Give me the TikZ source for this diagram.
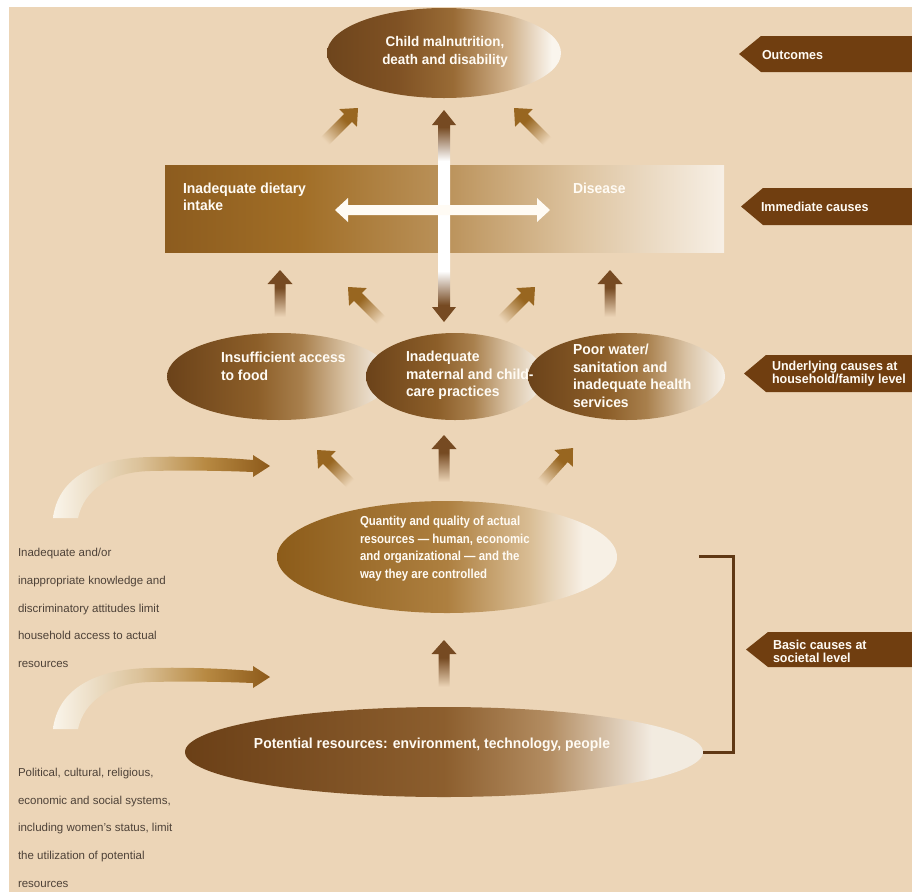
\documentclass[tikz,border=0pt]{standalone}
\usepackage{fontspec}
\setmainfont{Liberation Sans}
\newfontfamily\bcond[FakeStretch=0.96]{Liberation Sans}
\newfontfamily\bnarrow[FakeStretch=0.88]{Liberation Sans}
\usetikzlibrary{shapes.geometric}
\definecolor{bgc}{RGB}{236,213,183}
\definecolor{tagc}{RGB}{112,62,16}
\definecolor{brk}{RGB}{96,56,20}
\definecolor{txtg}{RGB}{78,66,56}
\definecolor{arrV}{RGB}{118,74,34}
\definecolor{arrD}{RGB}{152,102,32}
\definecolor{wtxt}{RGB}{255,251,244}
\pgfdeclarehorizontalshading{shTop}{100bp}{rgb(0bp)=(0.43,0.27,0.11); rgb(25bp)=(0.43,0.27,0.11); rgb(40bp)=(0.50,0.32,0.14); rgb(52bp)=(0.60,0.42,0.21); rgb(64bp)=(0.82,0.70,0.55); rgb(73bp)=(0.98,0.96,0.93); rgb(100bp)=(0.98,0.96,0.93)}
\pgfdeclarehorizontalshading{shRow}{100bp}{rgb(0bp)=(0.42,0.26,0.10); rgb(25bp)=(0.42,0.26,0.10); rgb(45bp)=(0.55,0.37,0.16); rgb(55bp)=(0.66,0.50,0.30); rgb(65bp)=(0.85,0.76,0.64); rgb(75bp)=(0.97,0.95,0.92); rgb(100bp)=(0.97,0.95,0.92)}
\pgfdeclarehorizontalshading{shRect}{100bp}{rgb(0bp)=(0.55,0.36,0.12); rgb(25bp)=(0.55,0.36,0.12); rgb(37bp)=(0.63,0.43,0.15); rgb(50bp)=(0.73,0.57,0.35); rgb(62bp)=(0.87,0.77,0.63); rgb(75bp)=(0.97,0.94,0.90); rgb(100bp)=(0.97,0.94,0.90)}
\pgfdeclarehorizontalshading{shQuant}{100bp}{rgb(0bp)=(0.55,0.36,0.10); rgb(25bp)=(0.55,0.36,0.10); rgb(50bp)=(0.68,0.50,0.25); rgb(62bp)=(0.85,0.74,0.58); rgb(70bp)=(0.97,0.94,0.90); rgb(100bp)=(0.97,0.94,0.90)}
\pgfdeclarehorizontalshading{shPot}{100bp}{rgb(0bp)=(0.42,0.25,0.09); rgb(25bp)=(0.42,0.25,0.09); rgb(50bp)=(0.55,0.37,0.18); rgb(60bp)=(0.70,0.55,0.38); rgb(70bp)=(0.95,0.92,0.88); rgb(100bp)=(0.95,0.92,0.88)}
\pgfdeclarehorizontalshading{shCurve}{100bp}{rgb(0bp)=(0.98,0.96,0.92); rgb(25bp)=(0.98,0.96,0.92); rgb(45bp)=(0.86,0.76,0.60); rgb(60bp)=(0.72,0.54,0.26); rgb(75bp)=(0.55,0.35,0.10); rgb(100bp)=(0.55,0.35,0.10)}
\pgfdeclareverticalshading{shDouble}{100bp}{color(0bp)=(arrV); color(29bp)=(arrV); color(37bp)=(white); color(63bp)=(white); color(71bp)=(arrV); color(100bp)=(arrV)}
\pgfdeclareverticalshading{shArrV}{100bp}{color(0bp)=(bgc); color(30bp)=(bgc); color(58bp)=(arrV); color(100bp)=(arrV)}
\pgfdeclareverticalshading{shArrD}{100bp}{color(0bp)=(bgc); color(30bp)=(bgc); color(58bp)=(arrD); color(100bp)=(arrD)}
\newcommand\smallarrow[5]{%
  \coordinate (#1) at (#2,#3);
  \begin{scope}[transform canvas={shift={(#1)},rotate=#4}]
    \shade[shading=#5] (0,0) -- (12.5,14) -- (5.5,14) -- (5.5,52) -- (-5.5,52) -- (-5.5,14) -- (-12.5,14) -- cycle;
  \end{scope}}
\newcommand\tagshape[3]{%
  \fill[tagc] (#1,{(#2+#3)/2}) -- (#1+22,#2) -- (912,#2) -- (912,#3) -- (#1+22,#3) -- cycle;}
\begin{document}
\begin{tikzpicture}[x=1pt,y=-1pt,
  every node/.style={inner sep=0pt,outer sep=0pt},
  ell/.style={ellipse,draw=none,inner sep=0pt},
  btext/.style={text=wtxt,font=\bcond\bfseries\fontsize{14.5}{17.5}\selectfont,align=left,anchor=west},
  tagtext/.style={text=wtxt,font=\bcond\bfseries\fontsize{13}{13}\selectfont,align=left,anchor=west},
  ltext/.style={text=txtg,font=\fontsize{11.5}{14}\selectfont,anchor=base west}]
\useasboundingbox (0,0) rectangle (912,892);
\fill[white] (0,0) rectangle (912,892);
\fill[bgc] (9,7) rectangle (912,892);

% outcome ellipse
\node[ell,shade,shading=shTop,minimum width=234,minimum height=90] (top) at (444,53) {};
\node[text=wtxt,font=\bcond\bfseries\fontsize{14}{18}\selectfont,align=center] (toptxt) at (445,52) {Child malnutrition,\\death and disability};

% immediate causes rectangle
\node[rectangle,shade,shading=shRect,minimum width=559,minimum height=87,anchor=north west] (rect) at (165,165) {};
\node[btext,font=\bcond\bfseries\fontsize{14.5}{17}\selectfont] (diet) at (183,196.5) {Inadequate dietary\\intake};
\node[btext] (dis) at (573,188) {Disease};

% vertical double arrow
\coordinate (vt) at (444,110);
\coordinate (vb) at (444,322);
\shade[shading=shDouble] (vt) -- (456,125) -- (450,125) -- (450,307) -- (456,307) -- (vb) -- (432,307) -- (438,307) -- (438,125) -- (432,125) -- cycle;
% white horizontal double arrow
\coordinate (hl) at (335,210);
\coordinate (hr) at (550,210);
\fill[wtxt] (hl) -- (348,198) -- (348,205) -- (537,205) -- (537,198) -- (hr) -- (537,222) -- (537,215) -- (348,215) -- (348,222) -- cycle;

% small arrows
\smallarrow{a1}{358}{108}{-45}{shArrD}
\smallarrow{a2}{514}{108}{45}{shArrD}
\smallarrow{b1}{280}{270}{0}{shArrV}
\smallarrow{b2}{348}{287}{45}{shArrD}
\smallarrow{b3}{535}{287}{-45}{shArrD}
\smallarrow{b4}{610}{270}{0}{shArrV}
\smallarrow{c1}{317}{450}{45}{shArrD}
\smallarrow{c2}{444}{435}{0}{shArrV}
\smallarrow{c3}{573}{448}{-42}{shArrD}
\smallarrow{d1}{444}{640}{0}{shArrV}

% underlying causes ellipses
\node[ell,shade,shading=shRow,minimum width=224,minimum height=87] (food) at (279,376.5) {};
\node[ell,shade,shading=shRow,minimum width=178,minimum height=87] (care) at (455,376.5) {};
\node[ell,shade,shading=shRow,minimum width=197,minimum height=87] (water) at (626.5,376.5) {};
\node[btext,font=\bcond\bfseries\fontsize{14.5}{18}\selectfont] (foodtxt) at (221,366) {Insufficient access\\to food};
\node[btext] (caretxt) at (406,375.5) {Inadequate\\maternal and child-\\care practices};
\node[btext,font=\bcond\bfseries\fontsize{14.5}{17.6}\selectfont] (watertxt) at (573,376) {Poor water/\\sanitation and\\inadequate health\\services};

% basic causes
\node[ell,shade,shading=shQuant,minimum width=340,minimum height=112] (quant) at (447,557) {};
\node[text=wtxt,font=\bnarrow\bfseries\fontsize{13}{17.7}\selectfont,align=left,anchor=west] (quanttxt) at (360,548.5) {Quantity and quality of actual\\resources — human, economic\\and organizational — and the\\way they are controlled};
\node[ell,shade,shading=shPot,minimum width=518,minimum height=90] (pot) at (444,752) {};
\node[text=wtxt,font=\bcond\bfseries\fontsize{14.5}{17}\selectfont] (pottxt) at (432,745) {Potential resources: environment, technology, people};

% curved arrows
\shade[shading=shCurve] (53,518) .. controls (58,478) and (95,458) .. (150,457) .. controls (190,456) and (230,458) .. (253,460) -- (253,455) -- (270,466) -- (253,477) -- (253,472) .. controls (230,471) and (190,470) .. (150,471) .. controls (110,472) and (84,490) .. (78,518) -- cycle;
\begin{scope}[yshift=-211pt]
\shade[shading=shCurve] (53,518) .. controls (58,478) and (95,458) .. (150,457) .. controls (190,456) and (230,458) .. (253,460) -- (253,455) -- (270,466) -- (253,477) -- (253,472) .. controls (230,471) and (190,470) .. (150,471) .. controls (110,472) and (84,490) .. (78,518) -- cycle;
\end{scope}

% left explanatory texts
\node[ltext] (k1) at (18,556) {Inadequate and/or};
\node[ltext] (k2) at (18,584) {inappropriate knowledge and};
\node[ltext] (k3) at (18,612) {discriminatory attitudes limit};
\node[ltext] (k4) at (18,639) {household access to actual};
\node[ltext] (k5) at (18,667) {resources};
\node[ltext] (p1) at (18,776) {Political, cultural, religious,};
\node[ltext] (p2) at (18,804) {economic and social systems,};
\node[ltext] (p3) at (18,831) {including women’s status, limit};
\node[ltext] (p4) at (18,859) {the utilization of potential};
\node[ltext] (p5) at (18,887) {resources};

% tags
\tagshape{739}{36}{72}
\node[tagtext] (tout) at (762,55) {Outcomes};
\tagshape{741}{188}{225}
\node[tagtext] (timm) at (761,207) {Immediate causes};
\tagshape{744}{355}{392}
\node[tagtext] (tund) at (772,373.5) {Underlying causes at\\household/family level};
\tagshape{746}{632}{667}
\node[tagtext] (tbas) at (773,651.5) {Basic causes at\\societal level};

% bracket
\coordinate (bq) at (699,556);
\coordinate (bp) at (pot.east);
\draw[brk,line width=3pt] (bq) -- (733,556) -- (733,752) -- (bp);
\end{tikzpicture}
\end{document}
